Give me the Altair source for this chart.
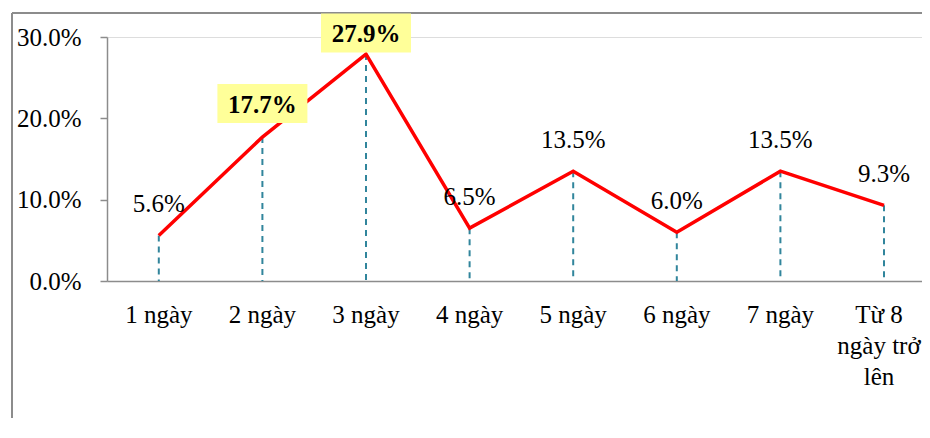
import altair as alt
import pandas as pd

categories = ["1 ngày", "2 ngày", "3 ngày", "4 ngày", "5 ngày", "6 ngày", "7 ngày", "Từ 8\nngày trở\nlên"]
values = [5.6, 17.7, 27.9, 6.5, 13.5, 6.0, 13.5, 9.3]
highlight = [False, True, True, False, False, False, False, False]

df = pd.DataFrame({
    "idx": list(range(len(categories))),
    "cat": categories,
    "v": [v / 100 for v in values],
    "hl": highlight,
})

FONT = "Liberation Serif"
W, H = 815, 244
xscale = alt.Scale(domain=[-0.5, -0.5 + W / 103.6], nice=False, zero=False)
yscale = alt.Scale(domain=[0, 0.3], nice=False)

base = alt.Chart(df)
X = alt.X("idx:Q", scale=xscale, axis=alt.Axis(
    domain=True, domainColor="#8c8c8c", domainWidth=1.5, ticks=False, labels=False,
    grid=False, title=None))
Y = alt.Y("v:Q", scale=yscale, axis=alt.Axis(
    values=[0, 0.1, 0.2, 0.3], format=".1%", domainColor="#8c8c8c", domainWidth=1.5,
    tickColor="#8c8c8c", tickWidth=1.5, tickSize=7, labelPadding=19, labelFont=FONT,
    labelFontSize=25, labelColor="black", grid=False, title=None))

one = alt.Chart(pd.DataFrame({"a": [0]}))
frame_left = one.mark_rule(color="#8c8c8c", strokeWidth=2).encode(
    x=alt.value(-95), x2=alt.value(-95), y=alt.value(-24), y2=alt.value(401))
frame_top = one.mark_rule(color="#8c8c8c", strokeWidth=2).encode(
    x=alt.value(-95), x2=alt.value(815), y=alt.value(-24), y2=alt.value(-24))

drops = base.mark_rule(color="#31859C", strokeWidth=2, strokeDash=[6, 5]).encode(
    x=X, y=Y, y2=alt.datum(0))

line = base.mark_line(color="#FF0000", strokeWidth=3.5).encode(x=X, y=Y)

box_path = "M-1,-0.4333L1,-0.4333L1,0.4333L-1,0.4333Z"
box1 = base.transform_filter("datum.idx == 1").mark_point(
    shape=box_path, size=8100, filled=True, color="#FFFF99", opacity=1, yOffset=-33.5
).encode(x=X, y=Y)
box2 = base.transform_filter("datum.idx == 2").mark_point(
    shape=box_path, size=8100, filled=True, color="#FFFF99", opacity=1, yOffset=-21
).encode(x=X, y=Y)

labels = base.transform_filter("!datum.hl").mark_text(
    font=FONT, fontSize=25, baseline="alphabetic", dy=-23, color="black"
).encode(x=X, y=Y, text=alt.Text("v:Q", format=".1%"))
lab1 = base.transform_filter("datum.idx == 1").mark_text(
    font=FONT, fontSize=25, fontWeight="bold", baseline="alphabetic", dy=-24, color="black"
).encode(x=X, y=Y, text=alt.Text("v:Q", format=".1%"))
lab2 = base.transform_filter("datum.idx == 2").mark_text(
    font=FONT, fontSize=25, fontWeight="bold", baseline="alphabetic", dy=-12, color="black"
).encode(x=X, y=Y, text=alt.Text("v:Q", format=".1%"))

xlabels = base.transform_filter("datum.idx < 7").mark_text(
    font=FONT, fontSize=25, baseline="alphabetic", lineBreak="\n", lineHeight=31,
    color="black", align="center"
).encode(x=X, y=alt.value(286), text="cat:N")
xlabel_last = base.transform_filter("datum.idx == 7").mark_text(
    font=FONT, fontSize=25, baseline="alphabetic", lineBreak="\n", lineHeight=31,
    color="black", align="center", dx=-5
).encode(x=X, y=alt.value(286), text="cat:N")

chart = alt.layer(
    frame_left, frame_top, drops, line, box1, box2, labels, lab1, lab2, xlabels, xlabel_last
).properties(
    width=W, height=H,
    autosize=alt.AutoSizeParams(type="none"),
    padding={"left": 99, "top": 29, "right": 0, "bottom": 137},
).configure_view(stroke=None).configure(background="white")

chart.save("out.html", embed_options={"renderer": "svg", "actions": False})
